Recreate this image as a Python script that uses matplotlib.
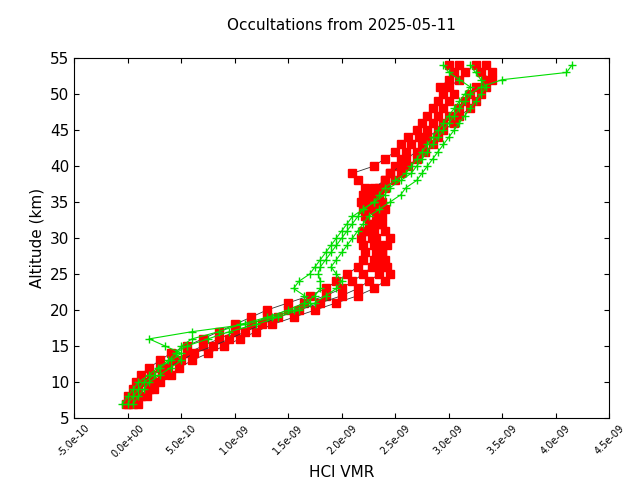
import matplotlib
matplotlib.use("Agg")
import matplotlib.pyplot as plt

alt = [7, 8, 9, 10, 11, 12, 13, 14, 15, 16, 17, 18, 19, 20, 21, 22, 23, 24, 25, 26,
       27, 28, 29, 30, 31, 32, 33, 34, 35, 36, 37, 38, 39, 40, 41, 42, 43, 44, 45, 46,
       47, 48, 49, 50, 51, 52, 53, 54]

# HCl VMR in units of 1e-9
red1 = [0.00, 0.05, 0.10, 0.15, 0.22, 0.30, 0.42, 0.55, 0.70, 0.85, 1.00, 1.15, 1.30, 1.50, 1.65, 1.85, 2.00, 2.10, 2.20, 2.28,
        2.30, 2.32, 2.30, 2.28, 2.25, 2.30, 2.32, 2.28, 2.25, 2.30, 2.35, 2.40, 2.45, 2.50, 2.55, 2.60, 2.65, 2.72, 2.80, 2.85,
        2.90, 2.95, 3.00, 3.05, 3.00, 3.10, 3.15, 3.10]
red2 = [0.10, 0.18, 0.25, 0.30, 0.40, 0.48, 0.60, 0.75, 0.90, 1.05, 1.20, 1.35, 1.55, 1.75, 1.95, 2.15, 2.30, 2.40, 2.45, 2.42,
        2.40, 2.38, 2.42, 2.45, 2.40, 2.38, 2.35, 2.40, 2.38, 2.35, 2.40, 2.50, 2.55, 2.62, 2.70, 2.78, 2.85, 2.90, 2.95, 3.05,
        3.10, 3.20, 3.25, 3.30, 3.35, 3.40, 3.30, 3.25]
red3 = [-0.02, 0.00, 0.05, 0.08, 0.12, 0.20, 0.30, 0.40, 0.55, 0.70, 0.85, 1.00, 1.15, 1.30, 1.50, 1.70, 1.85, 1.95, 2.05, 2.15,
        2.20, 2.22, 2.20, 2.18, 2.20, 2.25, 2.22, 2.20, 2.18, 2.20, 2.22, 2.15, 2.10, 2.30, 2.40, 2.50, 2.55, 2.62, 2.70, 2.75,
        2.80, 2.85, 2.90, 2.95, 2.92, 3.00, 3.05, 3.00]
red4 = [0.05, 0.12, 0.20, 0.25, 0.32, 0.38, 0.50, 0.62, 0.80, 0.95, 1.10, 1.25, 1.40, 1.60, 1.80, 2.00, 2.15, 2.25, 2.35, 2.35,
        2.35, 2.38, 2.35, 2.32, 2.30, 2.35, 2.38, 2.35, 2.32, 2.28, 2.30, 2.40, 2.45, 2.55, 2.60, 2.70, 2.75, 2.80, 2.90, 2.95,
        3.00, 3.10, 3.15, 3.20, 3.25, 3.35, 3.40, 3.35]

green1 = [-0.05, 0.00, 0.05, 0.10, 0.20, 0.28, 0.38, 0.45, 0.50, 0.60, 0.85, 1.05, 1.30, 1.50, 1.65, 1.75, 1.80, 1.80, 1.78, 1.80,
          1.85, 1.90, 1.95, 2.00, 2.05, 2.10, 2.15, 2.20, 2.30, 2.40, 2.45, 2.55, 2.65, 2.70, 2.75, 2.80, 2.85, 2.90, 2.95, 3.00,
          3.05, 3.10, 3.15, 3.20, 3.30, 3.50, 4.10, 4.15]
green2 = [0.00, 0.05, 0.10, 0.15, 0.25, 0.30, 0.40, 0.50, 0.35, 0.20, 0.60, 1.10, 1.35, 1.55, 1.70, 1.65, 1.55, 1.60, 1.70, 1.75,
          1.80, 1.85, 1.90, 1.95, 2.00, 2.05, 2.10, 2.20, 2.30, 2.35, 2.40, 2.50, 2.60, 2.65, 2.70, 2.75, 2.80, 2.85, 2.90, 2.95,
          3.00, 3.05, 3.10, 3.15, 3.20, 3.10, 3.00, 2.95]
green3 = [0.05, 0.10, 0.15, 0.20, 0.30, 0.40, 0.50, 0.45, 0.55, 0.75, 0.95, 1.20, 1.40, 1.60, 1.75, 1.85, 1.95, 2.00, 1.95, 1.90,
          1.95, 2.00, 2.05, 2.10, 2.15, 2.20, 2.25, 2.35, 2.45, 2.55, 2.60, 2.70, 2.75, 2.80, 2.85, 2.90, 2.95, 3.00, 3.05, 3.10,
          3.15, 3.20, 3.25, 3.30, 3.35, 3.30, 3.25, 3.20]

xticks = [-0.5, 0.0, 0.5, 1.0, 1.5, 2.0, 2.5, 3.0, 3.5, 4.0, 4.5]
xticklabels = ["-5.0e-10", "0.0e+00", "5.0e-10", "1.0e-09", "1.5e-09", "2.0e-09",
               "2.5e-09", "3.0e-09", "3.5e-09", "4.0e-09", "4.5e-09"]

fig, ax = plt.subplots(figsize=(6.4, 4.8), dpi=100)
fig.subplots_adjust(left=0.116, right=0.952, top=0.879, bottom=0.129)

for r in [red1, red2, red3, red4]:
    ax.plot(r, alt, color="#333333", lw=0.6, marker="s", ms=6, mfc="red", mec="red")
for g in [green1, green2, green3]:
    ax.plot(g, alt, color="#00dd00", lw=0.8, marker="+", ms=6)

ax.set_xlim(-0.5, 4.5)
ax.set_ylim(5, 55)
ax.set_xticks(xticks)
ax.set_xticklabels(xticklabels, rotation=45, fontsize=7)
ax.set_yticks(range(5, 56, 5))
ax.tick_params(direction="in", top=True, right=True, labelsize=11)
ax.tick_params(axis="x", labelsize=7)
ax.set_xlabel("HCl VMR", fontsize=11)
ax.set_ylabel("Altitude (km)", fontsize=11)
ax.set_title("Occultations from 2025-05-11", fontsize=11, pad=20)

fig.savefig("out.png")
